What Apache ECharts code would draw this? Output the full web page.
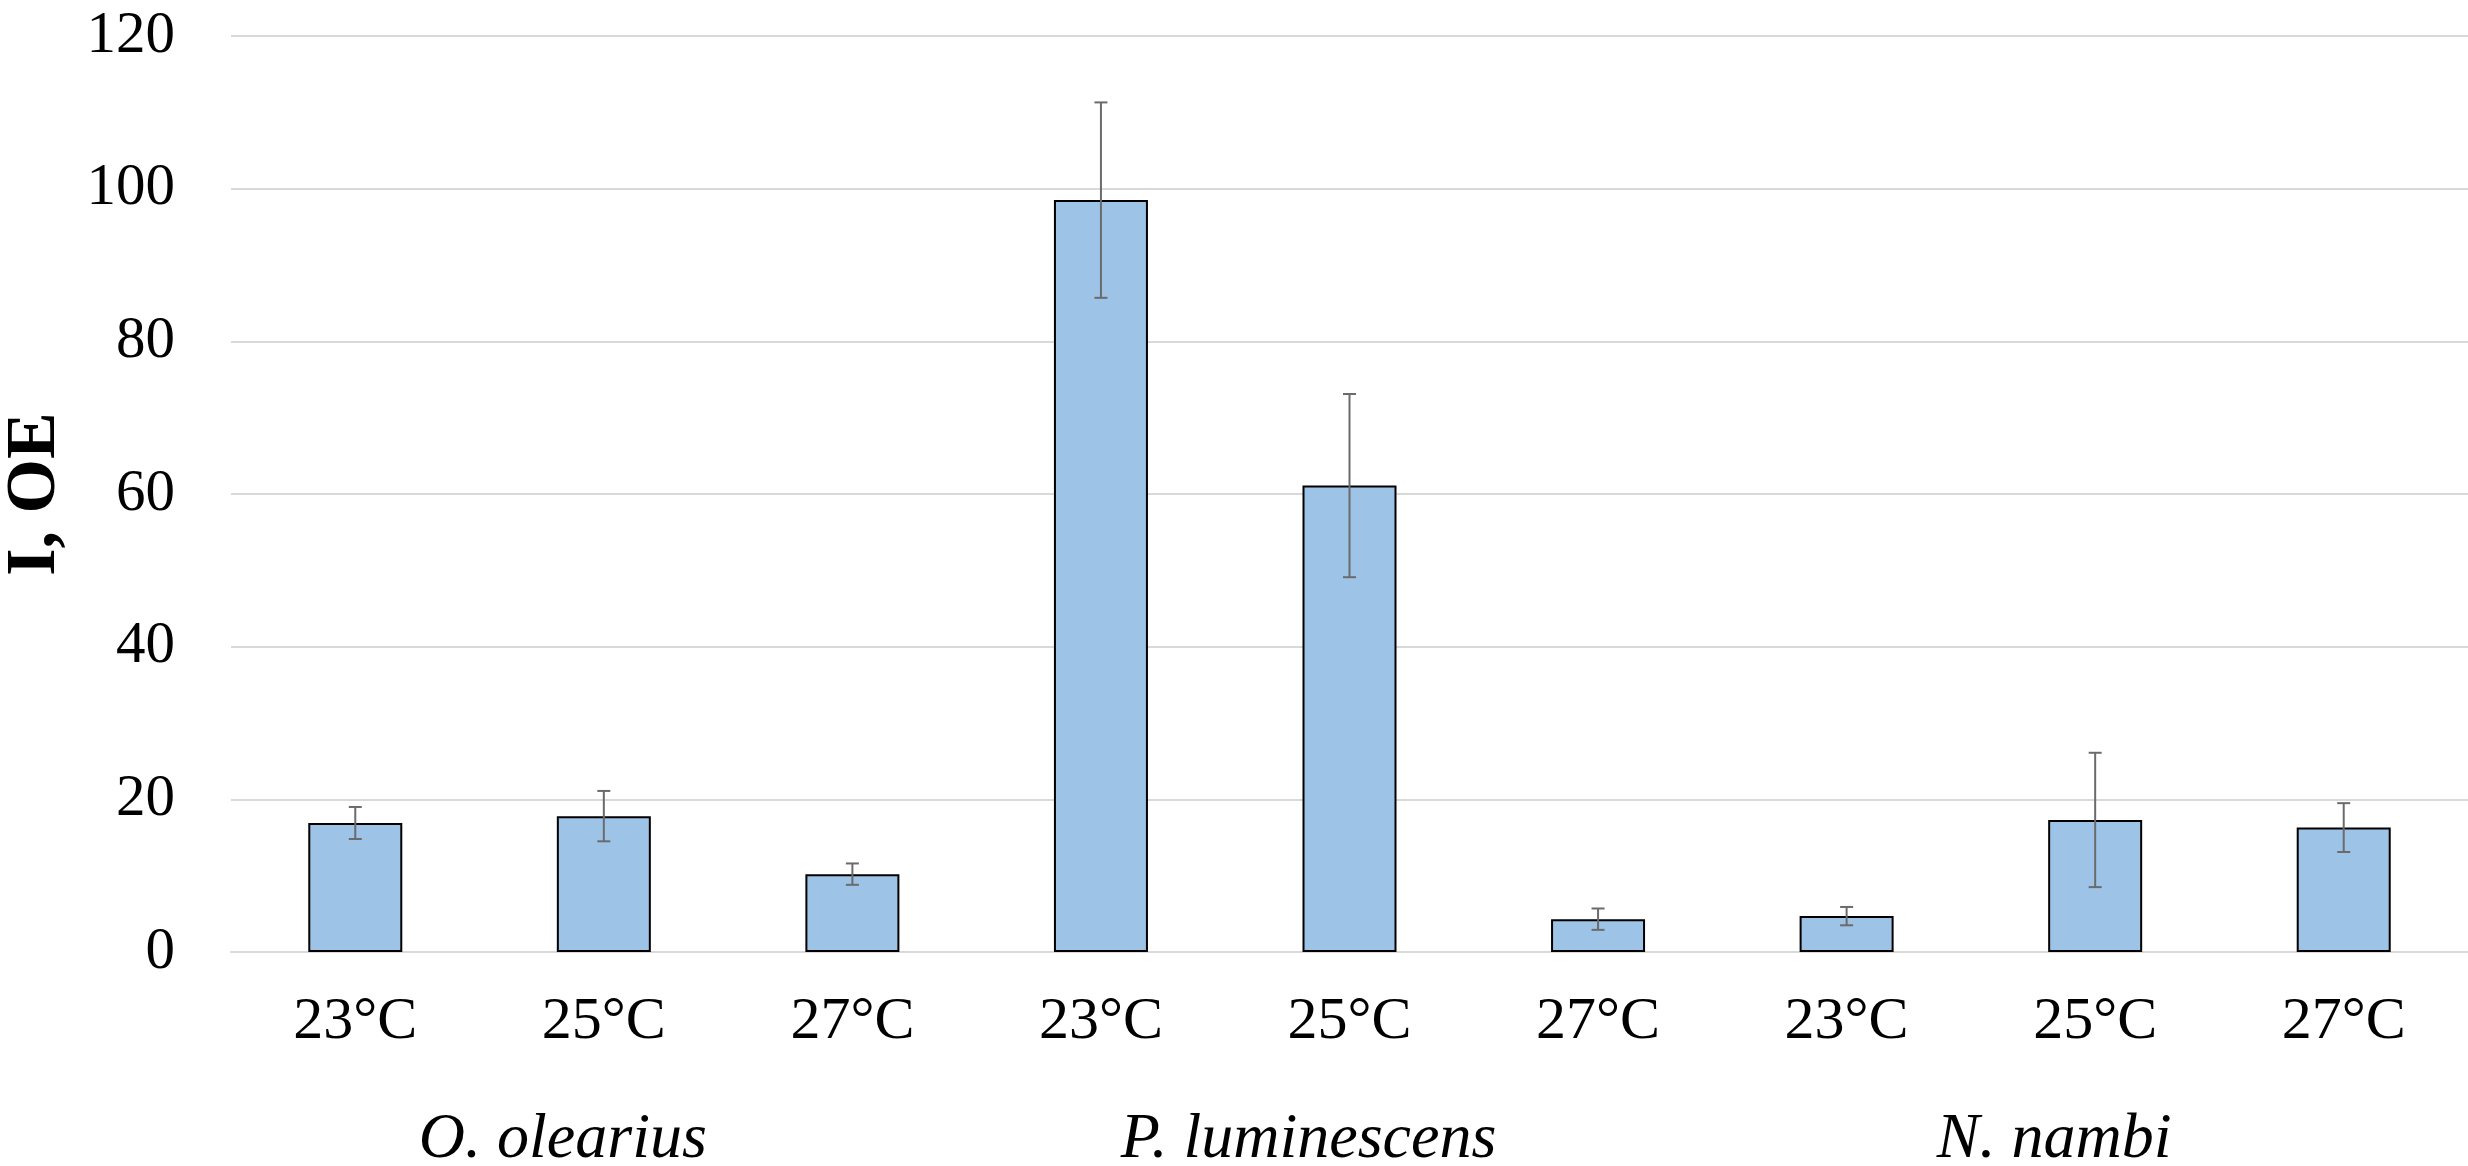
<!DOCTYPE html>
<html>
<head>
<meta charset="utf-8">
<title>I, OE</title>
<script src="https://cdn.jsdelivr.net/npm/echarts@6/dist/echarts.min.js"></script>
<style>
  html, body { margin: 0; padding: 0; background: #fff; }
  #chart { width: 2468px; height: 1166px; }
</style>
</head>
<body>
<div id="chart"></div>
<script>
// temperature under each bar
const categories = ["23°C", "25°C", "27°C", "23°C", "25°C", "27°C", "23°C", "25°C", "27°C"];
// species, one per three bars
const groups = ["O. olearius", "P. luminescens", "N. nambi"];
// mean values
const means = [16.9, 17.8, 10.2, 98.5, 61.1, 4.3, 4.7, 17.3, 16.3];
// +/- error
const errors = [2.1, 3.3, 1.4, 12.8, 12.0, 1.4, 1.2, 8.8, 3.2];
// y ticks
const yTicks = { min: 0, max: 120, interval: 20 };

const FONT = "Liberation Serif";

const chart = echarts.init(document.getElementById("chart"));

const errData = means.map((m, i) => [i, m - errors[i], m + errors[i]]);

function renderError(params, api) {
  const x = api.value(0);
  const hi = api.coord([x, api.value(2)]);
  const lo = api.coord([x, api.value(1)]);
  const hw = 6.5; // half cap width
  const style = { stroke: "#6b6b6b", lineWidth: 2 };
  return {
    type: "group",
    children: [
      { type: "line", shape: { x1: hi[0], y1: hi[1], x2: lo[0], y2: lo[1] }, style: style },
      { type: "line", shape: { x1: hi[0] - hw, y1: hi[1], x2: hi[0] + hw, y2: hi[1] }, style: style },
      { type: "line", shape: { x1: lo[0] - hw, y1: lo[1], x2: lo[0] + hw, y2: lo[1] }, style: style },
    ],
  };
}

const option = {
  backgroundColor: "#fff",
  animation: false,
  grid: { left: 231, right: 0, top: 36, bottom: 214, outerBoundsMode: "none", containLabel: false },
  xAxis: [
    {
      type: "category",
      data: categories,
      axisLine: { lineStyle: { color: "#d9d9d9", width: 2 } },
      axisTick: { show: false },
      axisLabel: { fontFamily: FONT, fontSize: 60, color: "#000", margin: 40 },
    },
    {
      type: "category",
      data: groups,
      position: "bottom",
      axisLine: { show: false },
      axisTick: { show: false },
      splitLine: { show: false },
      axisLabel: {
        fontFamily: FONT,
        fontStyle: "italic",
        fontSize: 64,
        color: "#000",
        margin: 156,
        padding: [0, 82, 0, 0],
      },
    },
  ],
  yAxis: {
    type: "value",
    min: yTicks.min,
    max: yTicks.max,
    interval: yTicks.interval,
    name: "I, OE",
    nameLocation: "middle",
    nameRotate: 90,
    nameGap: 160,
    nameTextStyle: { fontFamily: FONT, fontSize: 70, fontWeight: "bold", color: "#000" },
    axisLine: { show: false },
    axisTick: { show: false },
    axisLabel: { fontFamily: FONT, fontSize: 59, color: "#000", margin: 56 },
    splitLine: { lineStyle: { color: "#d9d9d9", width: 2 } },
  },
  series: [
    {
      type: "bar",
      data: means,
      barWidth: 94,
      itemStyle: { color: "#9dc3e6", borderColor: "#000", borderWidth: 2 },
    },
    {
      type: "custom",
      renderItem: renderError,
      data: errData,
      encode: { x: 0, y: [1, 2] },
      z: 10,
    },
  ],
};

chart.setOption(option);
</script>
</body>
</html>
